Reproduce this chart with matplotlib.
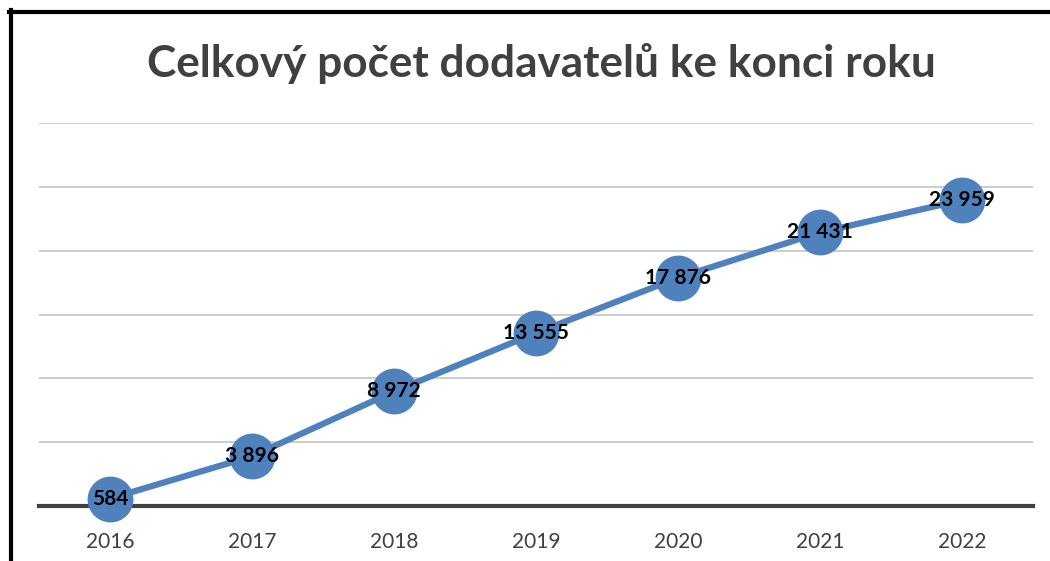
import matplotlib.pyplot as plt
from matplotlib.lines import Line2D

# data
years = ['2016', '2017', '2018', '2019', '2020', '2021', '2022']
suppliers = [584, 3896, 8972, 13555, 17876, 21431, 23959]
labels = ['584', '3 896', '8 972', '13 555', '17 876', '21 431', '23 959']

plt.rcParams['font.family'] = ['Lato', 'DejaVu Sans']

fig = plt.figure(figsize=(10.5, 5.61), dpi=100)
ax = fig.add_axes([39 / 1050, 1 - 506 / 561, 994 / 1050, (506 - 123) / 561])

x = range(len(years))
ax.plot(x, suppliers, color='#4F81BD', lw=4.5, marker='o', ms=32,
        markerfacecolor='#4F81BD', markeredgecolor='#4F81BD', zorder=3, clip_on=False)
for i, (v, t) in enumerate(zip(suppliers, labels)):
    ax.text(i, v, t, ha='center', va='center', fontsize=15, fontweight='bold',
            color='black', zorder=4)

ax.set_xlim(-0.5, len(years) - 0.5)
ax.set_ylim(0, 30000)
ax.set_yticks(range(5000, 30001, 5000))
ax.yaxis.grid(True, color='#C8C8C8', lw=1.3)
ax.set_axisbelow(True)
ax.tick_params(axis='y', left=False, labelleft=False)
ax.set_xticks(list(x))
ax.set_xticklabels(years, fontsize=15, color='#404040')
ax.tick_params(axis='x', length=0, pad=19)
for s in ['top', 'right', 'left']:
    ax.spines[s].set_visible(False)
ax.spines['bottom'].set_color('#404040')
ax.spines['bottom'].set_linewidth(3)

fig.text(541 / 1050, 1 - 63 / 561, 'Celkový počet dodavatelů ke konci roku',
         ha='center', va='center', fontsize=31.8, fontweight='bold', color='#404040')

# black frame on left and top
fig.add_artist(Line2D([10.5 / 1050, 10.5 / 1050], [0, 1 - 10 / 561],
                      color='black', lw=3, transform=fig.transFigure))
fig.add_artist(Line2D([9 / 1050, 1], [1 - 11.5 / 561, 1 - 11.5 / 561],
                      color='black', lw=3, transform=fig.transFigure))

fig.savefig('out.png', dpi=100)
